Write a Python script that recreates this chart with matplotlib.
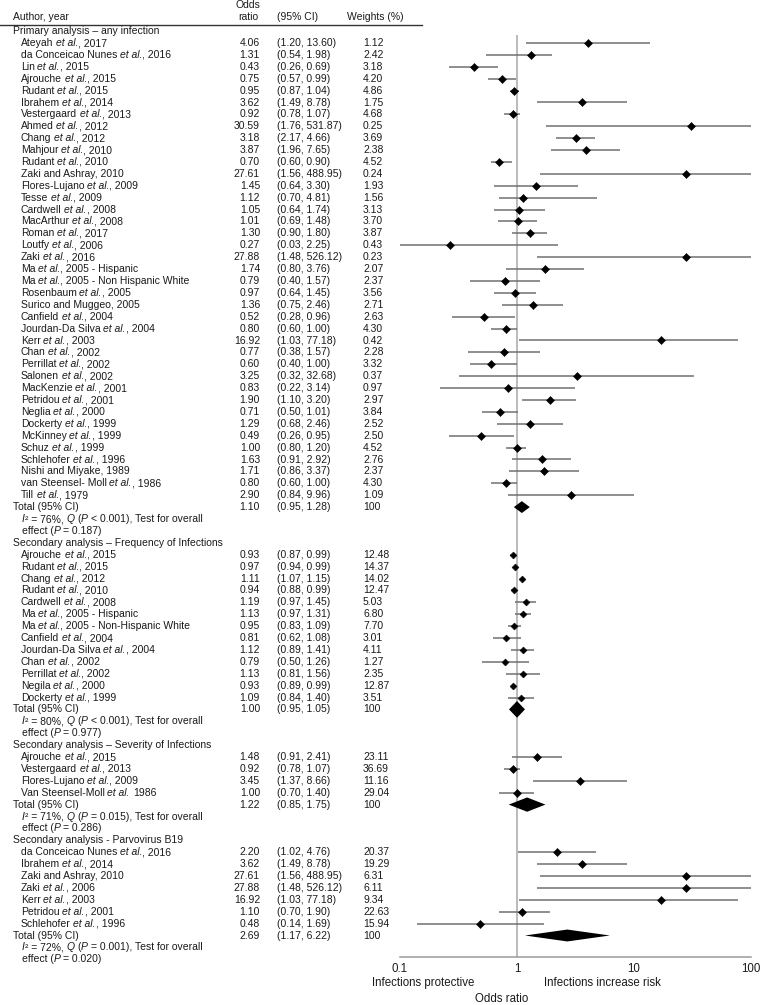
import matplotlib
matplotlib.use("Agg")
import matplotlib.pyplot as plt
import matplotlib.transforms as mtransforms

plt.rcParams['font.family'] = ['Liberation Sans', 'DejaVu Sans']

# ---- data -----------------------------------------------------------------
primary_names = [
    'Ateyah et al., 2017', 'da Conceicao Nunes et al., 2016', 'Lin et al., 2015',
    'Ajrouche et al., 2015', 'Rudant et al., 2015', 'Ibrahem et al., 2014',
    'Vestergaard et al., 2013', 'Ahmed et al., 2012', 'Chang et al., 2012',
    'Mahjour et al., 2010', 'Rudant et al., 2010', 'Zaki and Ashray, 2010',
    'Flores-Lujano et al., 2009', 'Tesse et al., 2009', 'Cardwell et al., 2008',
    'MacArthur et al., 2008', 'Roman et al., 2017', 'Loutfy et al., 2006',
    'Zaki et al., 2016', 'Ma et al., 2005 - Hispanic',
    'Ma et al., 2005 - Non Hispanic White', 'Rosenbaum et al., 2005',
    'Surico and Muggeo, 2005', 'Canfield et al., 2004',
    'Jourdan-Da Silva et al., 2004', 'Kerr et al., 2003', 'Chan et al., 2002',
    'Perrillat et al., 2002', 'Salonen et al., 2002', 'MacKenzie et al., 2001',
    'Petridou et al., 2001', 'Neglia et al., 2000', 'Dockerty et al., 1999',
    'McKinney et al., 1999', 'Schuz et al., 1999', 'Schlehofer et al., 1996',
    'Nishi and Miyake, 1989', 'van Steensel- Moll et al., 1986', 'Till et al., 1979',
]
primary_or = [4.06, 1.31, 0.43, 0.75, 0.95, 3.62, 0.92, 30.59, 3.18, 3.87, 0.70,
              27.61, 1.45, 1.12, 1.05, 1.01, 1.30, 0.27, 27.88, 1.74, 0.79, 0.97,
              1.36, 0.52, 0.80, 16.92, 0.77, 0.60, 3.25, 0.83, 1.90, 0.71, 1.29,
              0.49, 1.00, 1.63, 1.71, 0.80, 2.90]
primary_lo = [1.20, 0.54, 0.26, 0.57, 0.87, 1.49, 0.78, 1.76, 2.17, 1.96, 0.60,
              1.56, 0.64, 0.70, 0.64, 0.69, 0.90, 0.03, 1.48, 0.80, 0.40, 0.64,
              0.75, 0.28, 0.60, 1.03, 0.38, 0.40, 0.32, 0.22, 1.10, 0.50, 0.68,
              0.26, 0.80, 0.91, 0.86, 0.60, 0.84]
primary_hi = [13.60, 1.98, 0.69, 0.99, 1.04, 8.78, 1.07, 531.87, 4.66, 7.65, 0.90,
              488.95, 3.30, 4.81, 1.74, 1.48, 1.80, 2.25, 526.12, 3.76, 1.57, 1.45,
              2.46, 0.96, 1.00, 77.18, 1.57, 1.00, 32.68, 3.14, 3.20, 1.01, 2.46,
              0.95, 1.20, 2.92, 3.37, 1.00, 9.96]
primary_w = [1.12, 2.42, 3.18, 4.20, 4.86, 1.75, 4.68, 0.25, 3.69, 2.38, 4.52,
             0.24, 1.93, 1.56, 3.13, 3.70, 3.87, 0.43, 0.23, 2.07, 2.37, 3.56,
             2.71, 2.63, 4.30, 0.42, 2.28, 3.32, 0.37, 0.97, 2.97, 3.84, 2.52,
             2.50, 4.52, 2.76, 2.37, 4.30, 1.09]
primary_total = (1.10, 0.95, 1.28)
primary_stats = ['*I*\u00b2 = 76%, *Q* (*P* < 0.001), Test for overall',
                 'effect (*P* = 0.187)']

freq_names = [
    'Ajrouche et al., 2015', 'Rudant et al., 2015', 'Chang et al., 2012',
    'Rudant et al., 2010', 'Cardwell et al., 2008', 'Ma et al., 2005 - Hispanic',
    'Ma et al., 2005 - Non-Hispanic White', 'Canfield et al., 2004',
    'Jourdan-Da Silva et al., 2004', 'Chan et al., 2002', 'Perrillat et al., 2002',
    'Negila et al., 2000', 'Dockerty et al., 1999',
]
freq_or = [0.93, 0.97, 1.11, 0.94, 1.19, 1.13, 0.95, 0.81, 1.12, 0.79, 1.13, 0.93, 1.09]
freq_lo = [0.87, 0.94, 1.07, 0.88, 0.97, 0.97, 0.83, 0.62, 0.89, 0.50, 0.81, 0.89, 0.84]
freq_hi = [0.99, 0.99, 1.15, 0.99, 1.45, 1.31, 1.09, 1.08, 1.41, 1.26, 1.56, 0.99, 1.40]
freq_w = [12.48, 14.37, 14.02, 12.47, 5.03, 6.80, 7.70, 3.01, 4.11, 1.27, 2.35, 12.87, 3.51]
freq_total = (1.00, 0.95, 1.05)
freq_stats = ['*I*\u00b2 = 80%, *Q* (*P* < 0.001), Test for overall',
              'effect (*P* = 0.977)']

sev_names = ['Ajrouche et al., 2015', 'Vestergaard et al., 2013',
             'Flores-Lujano et al., 2009', 'Van Steensel-Moll et al. 1986']
sev_or = [1.48, 0.92, 3.45, 1.00]
sev_lo = [0.91, 0.78, 1.37, 0.70]
sev_hi = [2.41, 1.07, 8.66, 1.40]
sev_w = [23.11, 36.69, 11.16, 29.04]
sev_total = (1.22, 0.85, 1.75)
sev_stats = ['*I*\u00b2 = 71%, *Q* (*P* = 0.015), Test for overall',
             'effect (*P* = 0.286)']

parvo_names = ['da Conceicao Nunes et al., 2016', 'Ibrahem et al., 2014',
               'Zaki and Ashray, 2010', 'Zaki et al., 2006', 'Kerr et al., 2003',
               'Petridou et al., 2001', 'Schlehofer et al., 1996']
parvo_or = [2.20, 3.62, 27.61, 27.88, 16.92, 1.10, 0.48]
parvo_lo = [1.02, 1.49, 1.56, 1.48, 1.03, 0.70, 0.14]
parvo_hi = [4.76, 8.78, 488.95, 526.12, 77.18, 1.90, 1.69]
parvo_w = [20.37, 19.29, 6.31, 6.11, 9.34, 22.63, 15.94]
parvo_total = (2.69, 1.17, 6.22)
parvo_stats = ['*I*\u00b2 = 72%, *Q* (*P* = 0.001), Test for overall',
               'effect (*P* = 0.020)']

sections = [
    ('Primary analysis \u2013 any infection', primary_names, primary_or, primary_lo,
     primary_hi, primary_w, primary_total, primary_stats),
    ('Secondary analysis \u2013 Frequency of Infections', freq_names, freq_or, freq_lo,
     freq_hi, freq_w, freq_total, freq_stats),
    ('Secondary analysis \u2013 Severity of Infections', sev_names, sev_or, sev_lo,
     sev_hi, sev_w, sev_total, sev_stats),
    ('Secondary analysis - Parvovirus B19', parvo_names, parvo_or, parvo_lo,
     parvo_hi, parvo_w, parvo_total, parvo_stats),
]
marker_sizes = [4.4, 3.5, 4.2, 4.2]
total_heights = [0.5, 0.7, 0.6, 0.5]

# ---- layout (pixels) --------------------------------------------------------
W, H = 760, 1005
row0, row_step = 43.0, 11.9       # y of first study row, spacing
ax_top, ax_bot = 35, 957
ax_left, ax_right = 400, 751
txt = '#1a1a1a'
fs = 7.5
space_pt = 0.278 * fs


def fx(px):
    return px / W


def fy(px):
    return 1 - px / H


fig = plt.figure(figsize=(W / 100, H / 100), dpi=100)
ax = fig.add_axes([fx(ax_left), (H - ax_bot) / H, (ax_right - ax_left) / W,
                   (ax_bot - ax_top) / H])
ax.set_xscale('log')
ax.set_xlim(0.1, 100)
ax.set_ylim((ax_bot - row0) / row_step, (ax_top - row0) / row_step)
tr = mtransforms.blended_transform_factory(fig.transFigure, ax.transData)


def chain_text(x_px, y, segments):
    # draw (text, italic) pieces one after another on the same baseline
    prev, pending = None, 0
    for s, italic in segments:
        body = s.strip(' ')
        lead = len(s) - len(s.lstrip(' '))
        trail = len(s) - len(s.rstrip(' '))
        if not body:
            pending += len(s)
            continue
        style = 'italic' if italic else 'normal'
        if prev is None:
            prev = ax.text(fx(x_px), y, body, transform=tr, ha='left', va='center',
                           fontsize=fs, color=txt, style=style)
        else:
            prev = ax.annotate(body, xy=(1, 0), xycoords=prev,
                               xytext=((pending + lead) * space_pt, 0),
                               textcoords='offset points', ha='left', va='bottom',
                               fontsize=fs, color=txt, style=style)
        pending = trail


def name_segments(name):
    pre, sep, post = name.partition('et al.')
    segs = [(pre, False)]
    if sep:
        segs += [(sep, True), (post, False)]
    return segs


def stat_segments(line):
    return [(p, i % 2 == 1) for i, p in enumerate(line.split('*')) if p]


ax.axvline(1, color='#a8a8a8', lw=1.1, zorder=1)

r = -1
for si, (title, names, ors, los, his, ws, total, stats) in enumerate(sections):
    ax.text(fx(12.7), r, title, transform=tr, ha='left', va='center', fontsize=fs, color=txt)
    r += 1
    for name, o, lo, hi, w in zip(names, ors, los, his, ws):
        ax.plot([lo, hi], [r, r], color='#707070', lw=1.1, zorder=2, solid_capstyle='butt')
        ax.plot(o, r, 'D', color='black', ms=marker_sizes[si], mew=0.4, zorder=3)
        chain_text(20.7, r, name_segments(name))
        ax.text(fx(260), r, f'{o:.2f}', transform=tr, ha='right', va='center',
                fontsize=fs, color=txt)
        ax.text(fx(277), r, f'({lo:.2f}, {hi:.2f})', transform=tr, ha='left',
                va='center', fontsize=fs, color=txt)
        ax.text(fx(363), r, f'{w:.2f}', transform=tr, ha='left', va='center',
                fontsize=fs, color=txt)
        r += 1
    est, lo, hi = total
    # keep the pooled diamond visible when the interval is very narrow
    lo_d, hi_d = min(lo, est / 1.17), max(hi, est * 1.17)
    h = total_heights[si]
    ax.fill([lo_d, est, hi_d, est], [r, r - h, r, r + h], color='black', lw=0, zorder=3)
    ax.text(fx(12.7), r, 'Total (95% CI)', transform=tr, ha='left', va='center',
            fontsize=fs, color=txt)
    ax.text(fx(260), r, f'{est:.2f}', transform=tr, ha='right', va='center',
            fontsize=fs, color=txt)
    ax.text(fx(277), r, f'({lo:.2f}, {hi:.2f})', transform=tr, ha='left', va='center',
            fontsize=fs, color=txt)
    ax.text(fx(363), r, '100', transform=tr, ha='left', va='center', fontsize=fs, color=txt)
    r += 1
    for line in stats:
        chain_text(21.7, r, stat_segments(line))
        r += 1

# axis styling
for side in ['top', 'right', 'left']:
    ax.spines[side].set_visible(False)
ax.spines['bottom'].set_color('#9a9a9a')
ax.spines['bottom'].set_linewidth(1.1)
ax.set_yticks([])
ax.set_xticks([0.1, 1, 10, 100])
ax.set_xticklabels(['0.1', '1', '10', '100'])
ax.minorticks_off()
ax.tick_params(axis='x', length=0, pad=4, labelsize=8.3, labelcolor=txt)

# header
fig.text(fx(12.7), fy(17), 'Author, year', ha='left', va='center', fontsize=fs, color=txt)
fig.text(fx(248), fy(5), 'Odds', ha='center', va='center', fontsize=fs, color=txt)
fig.text(fx(248), fy(17), 'ratio', ha='center', va='center', fontsize=fs, color=txt)
fig.text(fx(277), fy(17), '(95% CI)', ha='left', va='center', fontsize=fs, color=txt)
fig.text(fx(347), fy(17), 'Weights (%)', ha='left', va='center', fontsize=fs, color=txt)
fig.add_artist(plt.Line2D([0, fx(422)], [fy(25.5), fy(25.5)], color='#333333', lw=1.0,
                          transform=fig.transFigure))

# bottom annotations
fig.text(fx(423), fy(983), 'Infections protective', ha='center', va='center',
         fontsize=8.3, color=txt)
fig.text(fx(602), fy(983), 'Infections increase risk', ha='center', va='center',
         fontsize=8.3, color=txt)
fig.text(fx(502), fy(999), 'Odds ratio', ha='center', va='center', fontsize=8.3, color=txt)

fig.savefig('out.png', dpi=100, facecolor='white')
